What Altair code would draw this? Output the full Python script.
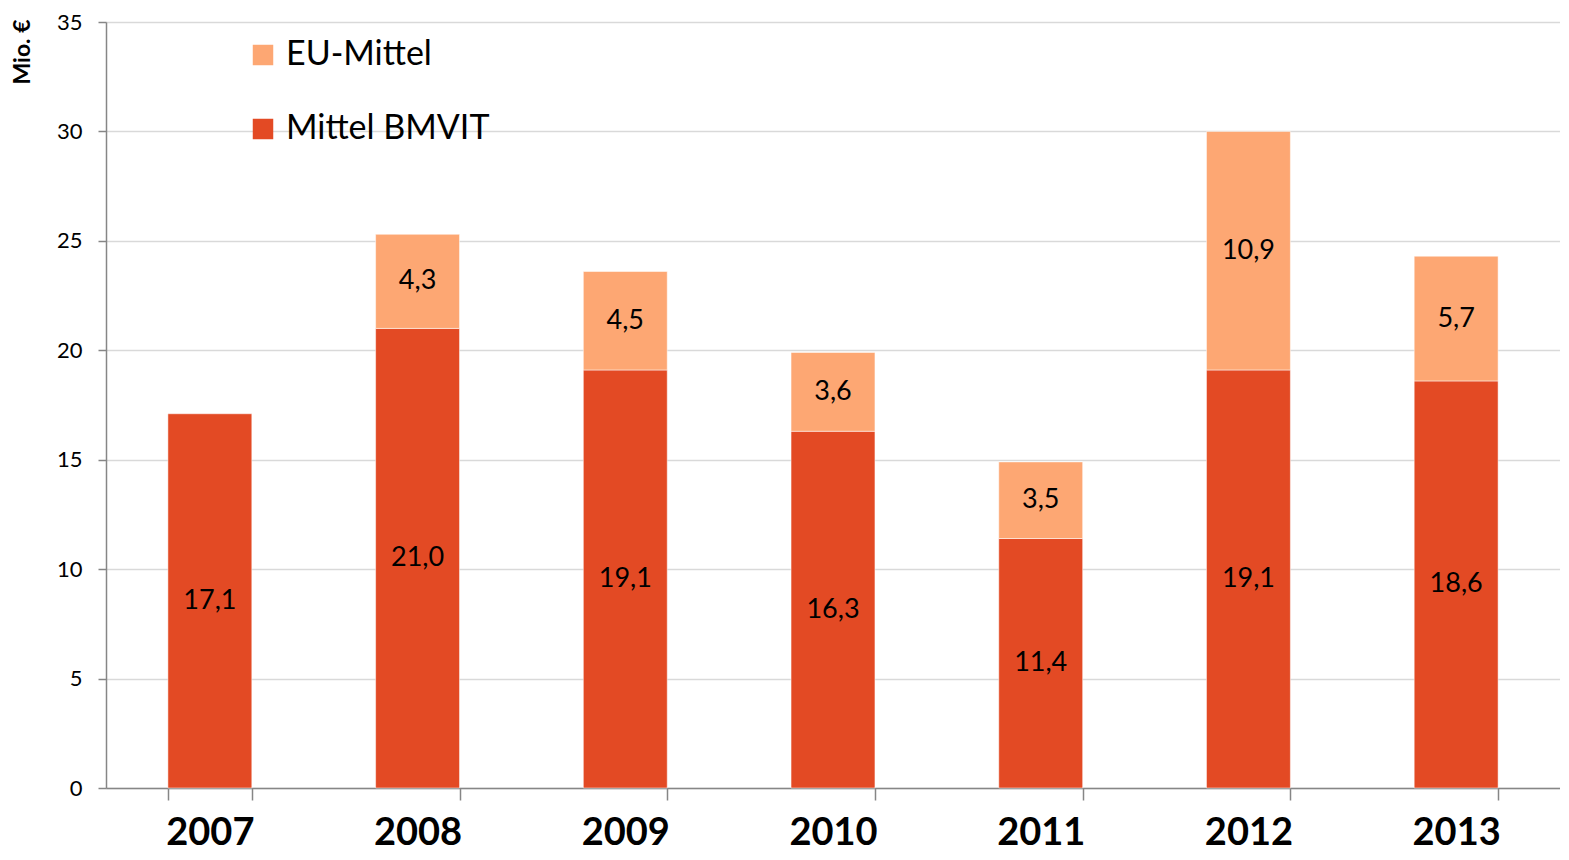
import altair as alt
import pandas as pd

years = ["2007", "2008", "2009", "2010", "2011", "2012", "2013"]
bmvit = [17.1, 21.0, 19.1, 16.3, 11.4, 19.1, 18.6]
eu = [0.0, 4.3, 4.5, 3.6, 3.5, 10.9, 5.7]
series = ["EU-Mittel", "Mittel BMVIT"]
colors = ["#FDA773", "#E34A24"]
y_ticks = [0, 5, 10, 15, 20, 25, 30, 35]

rows = []
for y, b, e in zip(years, bmvit, eu):
    rows.append({"Jahr": y, "Reihe": "Mittel BMVIT", "Wert": b, "ord": 0,
                 "label": f"{b:.1f}".replace(".", ",")})
    if e > 0:
        rows.append({"Jahr": y, "Reihe": "EU-Mittel", "Wert": e, "ord": 1,
                     "label": f"{e:.1f}".replace(".", ",")})
df = pd.DataFrame(rows)

FONT = "Lato"

base = alt.Chart(df).encode(
    x=alt.X("Jahr:N", sort=years,
            scale=alt.Scale(paddingInner=0.596, paddingOuter=0.298),
            axis=alt.Axis(title=None, labelAngle=0, labelFontSize=38, labelFontWeight="bold",
                          labelColor="#000000", labelFont=FONT, labelPadding=14,
                          tickBand="extent", tickSize=12, tickColor="#868686", tickWidth=1.5,
                          domainColor="#868686", domainWidth=1.5, grid=False)),
    y=alt.Y("Wert:Q", stack="zero",
            scale=alt.Scale(domain=[0, 35], nice=False),
            axis=alt.Axis(values=y_ticks, title="Mio. €", titleFontSize=23, titleFontWeight="bold",
                          titleFont=FONT, titleColor="#000000", titleAngle=-90,
                          titleX=-84, titleY=-3, titleAlign="right", titleBaseline="middle",
                          labelFontSize=22, labelColor="#000000", labelFont=FONT, labelPadding=16,
                          tickSize=8, tickColor="#868686", tickWidth=1.5,
                          domainColor="#868686", domainWidth=1.5,
                          gridColor="#D9D9D9", gridWidth=1.5)),
    order=alt.Order("ord:Q"),
)

bars = base.mark_bar(stroke="#FFFFFF", strokeWidth=1, strokeOpacity=0.5).encode(
    color=alt.Color("Reihe:N",
                    scale=alt.Scale(domain=series, range=colors),
                    legend=alt.Legend(title=None, orient="none", legendX=140, legendY=16,
                                      labelFontSize=34, labelFont=FONT, labelColor="#000000",
                                      labelLimit=600,
                                      symbolType="square", symbolSize=420, symbolStrokeWidth=0,
                                      rowPadding=40, labelOffset=6)),
)

text = base.mark_text(fontSize=27, font=FONT, color="#000000", baseline="middle").encode(
    y=alt.Y("mid:Q"),
    text="label:N",
).transform_stack(
    stack="Wert", groupby=["Jahr"], as_=["y0", "y1"], sort=[alt.SortField("ord", "ascending")]
).transform_calculate(mid="(datum.y0 + datum.y1) / 2")

chart = alt.layer(bars, text).properties(
    width=1454, height=766,
    autosize=alt.AutoSizeParams(type="none"),
    padding={"left": 98, "top": 14, "right": 0, "bottom": 63},
).configure_view(stroke=None).configure(background="#FFFFFF")

chart.save("out.html", embed_options={"renderer": "svg", "actions": False})
